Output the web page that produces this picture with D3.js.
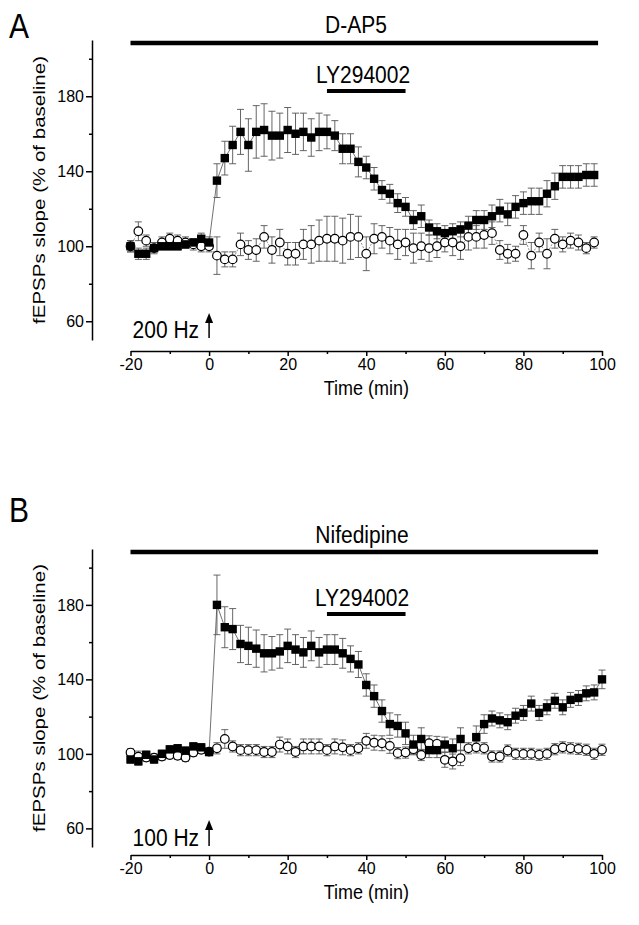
<!DOCTYPE html>
<html>
<head>
<meta charset="utf-8">
<script src="https://cdn.jsdelivr.net/npm/d3@7"></script>
<style>
  body { margin: 0; background: #fff; }
  svg { display: block; }
  text { font-family: "Liberation Sans", Arial, Helvetica, sans-serif; fill: #000; }
</style>
</head>
<body>
<div id="chart"></div>
<script>
// Panel A (D-AP5, 200 Hz) — time points in minutes
const timeA = [-20, -18, -16, -14, -12, -10, -8, -6, -4, -2, 0,
  2, 4, 6, 8, 10, 12, 14, 16, 18, 20, 22, 24, 26, 28, 30, 32, 34, 36, 38, 40,
  42, 44, 46, 48, 50, 52, 54, 56, 58, 60, 62, 64, 66, 68, 70, 72, 74, 76, 78, 80,
  82, 84, 86, 88, 90, 92, 94, 96, 98];
const filledA = [100, 96, 96, 99, 100, 100, 100, 101, 102, 104, 102,
  135, 147, 154, 161, 154, 161, 162, 159, 159, 162, 160, 161, 158, 161, 161, 159, 152, 152, 145, 142,
  136, 130, 128, 123, 121, 114, 116, 110, 108, 107, 108, 109, 111, 114, 114, 116, 119, 117, 121, 123,
  124, 124, 128, 132, 137, 137, 137, 138, 138];
const filledErrA = [3, 3, 3, 2, 2, 2, 2, 2, 2, 3, 3,
  9, 9, 10, 12, 14, 14, 14, 13, 12, 12, 11, 10, 10, 10, 9, 8, 8, 8, 8, 6,
  6, 5, 5, 5, 5, 5, 6, 4, 4, 4, 4, 4, 5, 5, 5, 6, 6, 6, 6, 6,
  7, 7, 7, 7, 6, 6, 6, 6, 6];
const openA = [100, 108, 103, 99, 102, 104, 103, 102, 101, 100, 100,
  95, 93, 93, 101, 98, 98, 105, 98, 102, 96, 96, 101, 101, 103, 104, 104, 103, 105, 105, 96,
  104, 105, 103, 101, 102, 99, 100, 99, 100, 102, 102, 100, 105, 105, 106, 107, 98, 96, 96, 106,
  95, 102, 96, 104, 101, 103, 102, 99, 102];
const openErrA = [3, 5, 3, 3, 3, 3, 3, 3, 3, 3, 3,
  10, 4, 4, 6, 5, 6, 6, 7, 7, 6, 6, 8, 10, 11, 12, 12, 12, 12, 11, 9,
  8, 6, 7, 8, 7, 8, 7, 7, 6, 5, 7, 7, 7, 6, 7, 6, 5, 5, 4, 5,
  7, 5, 8, 5, 4, 4, 4, 3, 3];

// Panel B (Nifedipine, 100 Hz)
const timeB = [-20, -18, -16, -14, -12, -10, -8, -6, -4, -2, 0,
  2, 4, 6, 8, 10, 12, 14, 16, 18, 20, 22, 24, 26, 28, 30, 32, 34, 36, 38, 40,
  42, 44, 46, 48, 50, 52, 54, 56, 58, 60, 62, 64, 66, 68, 70, 72, 74, 76, 78, 80,
  82, 84, 86, 88, 90, 92, 94, 96, 98, 100];
const filledB = [97, 96, 99.5, 97, 100, 102.4, 103, 101.7, 104, 103.5, 101,
  180, 168, 167, 159, 158, 156.5, 154, 154, 155, 158, 156, 154.5, 158, 154.5, 156, 156, 154, 151, 148, 137,
  131, 123, 116, 115, 111, 105, 108, 102, 102, 105, 103, 108, null, 109, 116, 119, 118, 117, 120.5, 122,
  127, 122, 125, 128.5, 125, 129, 130, 132.5, 133, 140];
const filledErrB = [2, 2, 2, 2, 2, 2, 2, 2, 2, 2, 2,
  16, 11, 11, 10, 10, 10, 10, 9, 9, 9, 8, 8, 8, 8, 8, 8, 8, 7, 7, 6,
  6, 6, 6, 6, 6, 5, 6, 4, 4, 4, 5, 6, 0, 6, 5, 4, 4, 4, 4, 4,
  4, 4, 4, 4, 4, 4, 4, 4, 4, 5];
const openB = [100.7, 98.5, 98, 98, 98.6, 99.4, 99, 98, 100.7, 102.2, 101.2,
  103, 108, 104, 102, 102, 102, 101, 101, 105, 104, 101, 104, 104, 104, 102, 104, 103.5, 102, 103, 107,
  106, 105.7, 104.3, 100.4, 100.7, 102.5, 99.4, 105.7, 105.4, 96.8, 95.9, 97.7, 103, 103.5, 103, 98.6, 98.6, 101.8, 100, 100,
  100, 99.5, 100, 102.5, 103.5, 103, 102.7, 102.2, 100, 102.2];
const openErrB = [2, 3, 2, 2, 2, 2, 2, 2, 2, 2, 2,
  3, 5, 3, 3, 3, 3, 3, 3, 4, 4, 3, 4, 4, 4, 3, 4, 4, 3, 3, 4,
  4, 4, 4, 3, 3, 3, 3, 4, 4, 4, 4, 4, 3, 3, 3, 3, 3, 3, 3, 3,
  3, 3, 3, 3, 3, 3, 3, 3, 3, 3];

const xMajor = [-20, 0, 20, 40, 60, 80, 100];
const xMinor = [-10, 10, 30, 50, 70, 90];
const yMajor = [60, 100, 140, 180];
const yMinor = [80, 120, 160, 200];

const svg = d3.select('#chart').append('svg')
  .attr('width', 639)
  .attr('height', 925);

const x = d3.scaleLinear().domain([-20, 100]).range([130.5, 602]);

// text stretched a little vertically, like the scanned figure
function label(g, px, py, txt, size, anchor) {
  return g.append('text')
    .attr('transform', `translate(${px},${py}) scale(1,1.15)`)
    .attr('text-anchor', anchor || 'start')
    .style('font-size', size + 'px')
    .text(txt);
}

function drawPanel(p) {
  const g = svg.append('g');
  const y = d3.scaleLinear().domain([50, 210]).range([p.yBottom, p.yTop]);

  const rows = p.time.map((t, i) => ({
    t: t,
    f: p.filled[i], fe: p.filledErr[i],
    o: p.open[i], oe: p.openErr[i]
  }));

  // Y axis
  g.append('g')
    .attr('transform', 'translate(92,0)')
    .call(d3.axisLeft(y).tickValues(yMajor).tickSize(6).tickSizeOuter(0).tickPadding(2))
    .call(a => a.selectAll('text').style('font-size', '16px'));
  g.append('g')
    .attr('transform', 'translate(92,0)')
    .call(d3.axisLeft(y).tickValues(yMinor).tickSize(3).tickFormat(''))
    .call(a => a.select('.domain').remove());

  // X axis (detached, below) — plain hyphen for negatives, as in the figure
  g.append('g')
    .attr('transform', `translate(0,${p.xAxisY})`)
    .call(d3.axisBottom(x).tickValues(xMajor).tickFormat(d => String(d))
      .tickSize(5).tickSizeOuter(0).tickPadding(3))
    .call(a => a.selectAll('text').style('font-size', '16px'));
  g.append('g')
    .attr('transform', `translate(0,${p.xAxisY})`)
    .call(d3.axisBottom(x).tickValues(xMinor).tickSize(3).tickFormat(''))
    .call(a => a.select('.domain').remove());

  g.selectAll('.domain, .tick line').attr('stroke', '#000').attr('stroke-width', 1.5);

  label(g, x(40), p.xAxisY + 44, 'Time (min)', 18, 'middle');

  g.append('text')
    .attr('transform', 'rotate(-90)')
    .attr('x', -(p.yTop + p.yBottom) / 2)
    .attr('y', 45)
    .attr('text-anchor', 'middle')
    .attr('textLength', 268)
    .attr('lengthAdjust', 'spacingAndGlyphs')
    .style('font-size', '17px')
    .text('fEPSPs slope (% of baseline)');

  label(g, 9, p.letterY, p.letter, 30);

  // drug bars
  label(g, p.drugX, p.drugY, p.drug, 21, 'middle');
  g.append('line')
    .attr('x1', x(-20)).attr('x2', x(99))
    .attr('y1', p.drugBarY).attr('y2', p.drugBarY)
    .attr('stroke', '#000').attr('stroke-width', 4.5);
  label(g, p.lyX, p.lyY, 'LY294002', 21, 'middle');
  g.append('line')
    .attr('x1', x(30)).attr('x2', x(50))
    .attr('y1', p.lyBarY).attr('y2', p.lyBarY)
    .attr('stroke', '#000').attr('stroke-width', 4);

  // stimulus arrow
  const ax = x(0);
  g.append('line')
    .attr('x1', ax).attr('x2', ax)
    .attr('y1', p.arrowBase).attr('y2', p.arrowTip + 8)
    .attr('stroke', '#000').attr('stroke-width', 1.5);
  g.append('path')
    .attr('d', `M${ax},${p.arrowTip} L${ax - 4},${p.arrowTip + 10} L${ax + 4},${p.arrowTip + 10} Z`)
    .attr('fill', '#000');
  label(g, ax - 10, p.arrowBase, p.stim, 21, 'end');

  // connecting lines
  const lineF = d3.line().defined(d => d.f != null).x(d => x(d.t)).y(d => y(d.f));
  const lineO = d3.line().x(d => x(d.t)).y(d => y(d.o));
  g.append('path').datum(rows).attr('d', lineO)
    .attr('fill', 'none').attr('stroke', '#444').attr('stroke-width', 0.6)
    .attr('stroke-dasharray', '2,1.5');
  g.append('path').datum(rows).attr('d', lineF)
    .attr('fill', 'none').attr('stroke', '#333').attr('stroke-width', 0.7);

  // error bars
  function errBars(key, ekey) {
    const bars = g.append('g').selectAll('g')
      .data(rows.filter(d => d[key] != null && d[ekey] > 0))
      .enter().append('g')
      .attr('stroke', '#555').attr('stroke-width', 0.9);
    bars.append('line')
      .attr('x1', d => x(d.t)).attr('x2', d => x(d.t))
      .attr('y1', d => y(d[key] - d[ekey])).attr('y2', d => y(d[key] + d[ekey]));
    bars.append('line')
      .attr('x1', d => x(d.t) - 3.5).attr('x2', d => x(d.t) + 3.5)
      .attr('y1', d => y(d[key] + d[ekey])).attr('y2', d => y(d[key] + d[ekey]));
    bars.append('line')
      .attr('x1', d => x(d.t) - 3.5).attr('x2', d => x(d.t) + 3.5)
      .attr('y1', d => y(d[key] - d[ekey])).attr('y2', d => y(d[key] - d[ekey]));
  }
  errBars('o', 'oe');
  errBars('f', 'fe');

  // markers
  g.append('g').selectAll('circle')
    .data(rows).enter().append('circle')
    .attr('cx', d => x(d.t)).attr('cy', d => y(d.o)).attr('r', 4.3)
    .attr('fill', '#fff').attr('stroke', '#000').attr('stroke-width', 1.2);
  g.append('g').selectAll('rect')
    .data(rows.filter(d => d.f != null)).enter().append('rect')
    .attr('x', d => x(d.t) - 4.2).attr('y', d => y(d.f) - 4.2)
    .attr('width', 8.4).attr('height', 8.4)
    .attr('fill', '#000');
}

drawPanel({
  letter: 'A', letterY: 38,
  time: timeA, filled: filledA, filledErr: filledErrA, open: openA, openErr: openErrA,
  yTop: 40, yBottom: 340, xAxisY: 351,
  drug: 'D-AP5', drugX: 356, drugY: 33, drugBarY: 43,
  lyX: 363, lyY: 83, lyBarY: 91,
  stim: '200 Hz', arrowTip: 313, arrowBase: 338
});

drawPanel({
  letter: 'B', letterY: 522,
  time: timeB, filled: filledB, filledErr: filledErrB, open: openB, openErr: openErrB,
  yTop: 549, yBottom: 847, xAxisY: 855,
  drug: 'Nifedipine', drugX: 362, drugY: 543, drugBarY: 552,
  lyX: 362, lyY: 606, lyBarY: 614,
  stim: '100 Hz', arrowTip: 820, arrowBase: 846
});
</script>
</body>
</html>
